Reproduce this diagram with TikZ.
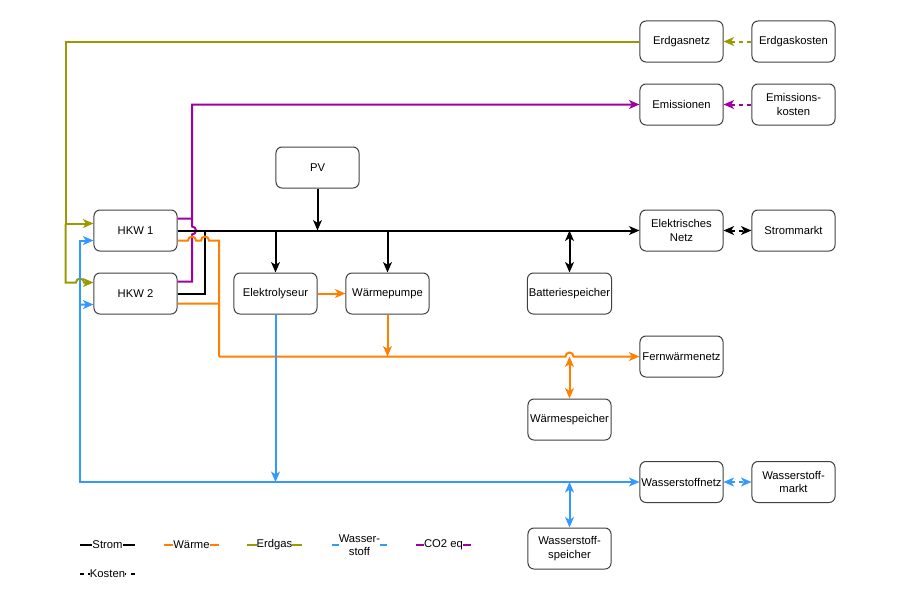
\documentclass[tikz,border=0pt]{standalone}
\usepackage{fontspec}
\setmainfont{Liberation Sans}
\usetikzlibrary{calc,positioning,arrows.meta}
\definecolor{gasc}{RGB}{153,153,0}
\definecolor{co2c}{RGB}{160,0,160}
\definecolor{heatc}{RGB}{255,128,0}
\definecolor{h2c}{RGB}{51,153,255}
\begin{document}
\begin{tikzpicture}
    \tikzset{x=0.025cm,y=-0.025cm,every path/.style={>={Stealth[length=0.26cm,width=0.22cm,inset=0.07cm]}},
      box/.style={draw=black!75,line width=0.025cm,rounded corners=0.15cm,minimum width=2.075cm,minimum height=1.025cm,inner sep=1pt,align=center,font=\fontsize{8}{9.6}\selectfont},
      el/.style={draw=black,line width=0.05cm},
      heat/.style={draw=heatc,line width=0.05cm},
      gas/.style={draw=gasc,line width=0.05cm},
      h2/.style={draw=h2c,line width=0.05cm},
      co2/.style={draw=co2c,line width=0.05cm},
      leg/.style={fill=white,inner sep=0pt,align=center,font=\fontsize{8}{9.6}\selectfont}}
    \useasboundingbox (0,0) rectangle (901,600);
%   boxes
    \node [box] (egnetz)     at (681.5,41.5)  {Erdgasnetz};
    \node [box] (egkosten)   at (793.5,41.5)  {Erdgaskosten};
    \node [box] (emis)       at (681.5,104.5) {Emissionen};
    \node [box] (emiskosten) at (793.5,104.5) {Emissions-\\kosten};
    \node [box] (pv)         at (317.5,167.5) {PV};
    \node [box] (hkw1)       at (135.5,230.5) {HKW 1};
    \node [box] (hkw2)       at (135.5,293.5) {HKW 2};
    \node [box] (elnetz)     at (681.5,230.5) {Elektrisches\\Netz};
    \node [box] (strom)      at (793.5,230.5) {Strommarkt};
    \node [box] (elyse)      at (275.5,293.5) {Elektrolyseur};
    \node [box] (wp)         at (387.5,293.5) {Wärmepumpe};
    \node [box] (batt)       at (569.5,293.5) {Batteriespeicher};
    \node [box] (fwnetz)     at (681.5,356.5) {Fernwärmenetz};
    \node [box] (wspeicher)  at (569.5,419.5) {Wärmespeicher};
    \node [box] (h2netz)     at (681.5,482)   {Wasserstoffnetz};
    \node [box] (h2markt)    at (793.5,482)   {Wasserstoff-\\markt};
    \node [box] (h2speicher) at (569.5,548.5) {Wasserstoff-\\speicher};
%   Erdgas
    \draw[gas,->] (egnetz.west) -- (65.5,41.5) |- ([yshift=0.175cm]hkw1.west);
    \draw[gas,->] (65.5,223.5) -- (65.5,282.5) -- (76,282.5) arc[start angle=180,end angle=0,radius=0.1cm] -- ([yshift=0.275cm]hkw2.west);
    \draw[gas,dashed,->] (egkosten.west) -- (egnetz.east);
%   CO2
    \draw[co2,->] ([yshift=0.3cm]hkw2.east) -- (192,281.5) -- (192,234.5) arc[start angle=-90,end angle=90,radius=0.1cm] |- (emis.west);
    \draw[co2] ([yshift=0.3cm]hkw1.east) -- (192,218.5);
    \draw[co2,dashed,->] (emiskosten.west) -- (emis.east);
%   Strom
    \draw[el,->] (hkw1.east) -- (elnetz.west);
    \draw[el] (hkw2.east) -| (205,230.5);
    \draw[el,->] (pv.south) -- (pv.south |- hkw1.east);
    \draw[el,->] (elyse.north |- hkw1.east) -- (elyse.north);
    \draw[el,->] (wp.north |- hkw1.east) -- (wp.north);
    \draw[el,<->] (batt.north |- hkw1.east) -- (batt.north);
    \draw[el,dashed,<->] (elnetz.east) -- (strom.west);
%   Waerme
    \draw[heat] ([yshift=-0.25cm]hkw1.east) -- (188,240.5) arc[start angle=180,end angle=0,radius=0.1cm] -- (201,240.5) arc[start angle=180,end angle=0,radius=0.1cm] -| (219,356.5);
    \draw[heat] ([yshift=-0.25cm]hkw2.east) -- (219,303.5);
    \draw[heat,->] (219,356.5) -- (565.5,356.5) arc[start angle=180,end angle=0,radius=0.1cm] -- (fwnetz.west);
    \draw[heat,->] (elyse.east) -- (wp.west);
    \draw[heat,->] (wp.south) -- (wp.south |- fwnetz.west);
    \draw[heat,<->] (wspeicher.north |- fwnetz.west) -- (wspeicher.north);
%   Wasserstoff
    \draw[h2,<->] ([yshift=-0.25cm]hkw1.west) -| (80,482) -- (h2netz.west);
    \draw[h2,->] (80,304.5) -- ([yshift=-0.275cm]hkw2.west);
    \draw[h2,->] (elyse.south) -- (elyse.south |- h2netz.west);
    \draw[h2,<->] (h2speicher.north |- h2netz.west) -- (h2speicher.north);
    \draw[h2,dashed,<->] (h2netz.east) -- (h2markt.west);
%   legend
    \foreach \x/\s/\t in {80/el/Strom,164/heat/Wärme,247/gas/Erdgas,332/h2/{Wasser-\\stoff},416/co2/CO2 eq}
       { \draw[\s] (\x,545) -- node[leg] (leg\s) {\t} ++(55,0);
       }
    \draw[el,dashed] (80,574) -- node[leg] (legk) {Kosten} ++(55,0);
\end{tikzpicture}
\end{document}
